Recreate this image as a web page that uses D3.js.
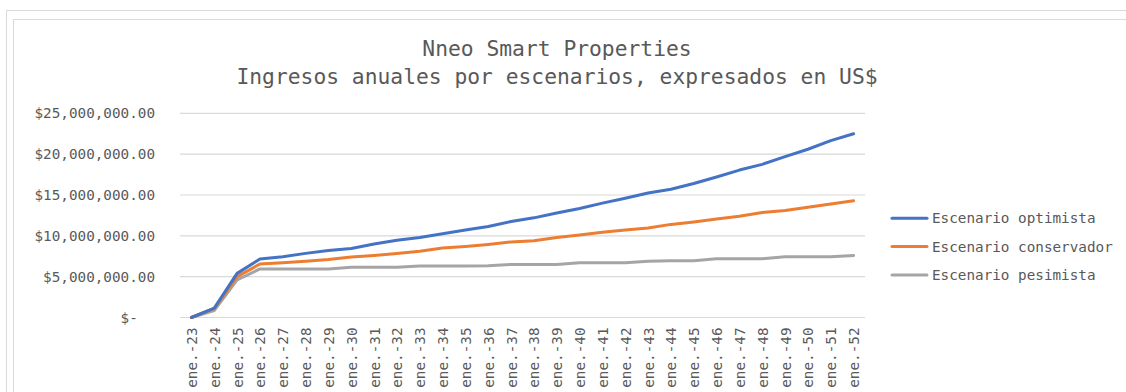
<!DOCTYPE html>
<html>
<head>
<meta charset="utf-8">
<script src="https://cdn.jsdelivr.net/npm/d3@7"></script>
<style>
  html, body { margin: 0; padding: 0; background: #ffffff; }
  svg { display: block; }
  text { font-family: "DejaVu Sans Mono", "Liberation Mono", monospace; fill: #595959; }
</style>
</head>
<body>
<svg id="chart" width="1126" height="392"></svg>
<script>
// Year labels on the category axis
const categories = ["ene.-23","ene.-24","ene.-25","ene.-26","ene.-27","ene.-28","ene.-29","ene.-30",
  "ene.-31","ene.-32","ene.-33","ene.-34","ene.-35","ene.-36","ene.-37","ene.-38","ene.-39","ene.-40",
  "ene.-41","ene.-42","ene.-43","ene.-44","ene.-45","ene.-46","ene.-47","ene.-48","ene.-49","ene.-50",
  "ene.-51","ene.-52"];

// Annual income per scenario, in US$
const optimista = [0, 1150000, 5400000, 7150000, 7450000, 7850000, 8200000, 8450000, 9000000, 9450000,
  9800000, 10250000, 10700000, 11150000, 11750000, 12200000, 12800000, 13350000, 14000000, 14600000,
  15250000, 15700000, 16400000, 17200000, 18050000, 18750000, 19700000, 20600000, 21650000, 22500000];
const conservador = [0, 1100000, 5000000, 6550000, 6700000, 6900000, 7100000, 7400000, 7600000, 7850000,
  8100000, 8500000, 8700000, 8950000, 9250000, 9400000, 9800000, 10100000, 10450000, 10700000,
  10950000, 11400000, 11700000, 12050000, 12400000, 12850000, 13100000, 13500000, 13900000, 14300000];
const pesimista = [0, 850000, 4600000, 5950000, 5950000, 5950000, 5950000, 6150000, 6150000, 6150000,
  6300000, 6300000, 6300000, 6350000, 6500000, 6500000, 6500000, 6700000, 6700000, 6700000,
  6900000, 6950000, 6950000, 7200000, 7200000, 7200000, 7450000, 7450000, 7450000, 7600000];

const yTicks = [0, 5000000, 10000000, 15000000, 20000000, 25000000];
const titleLines = ["Nneo Smart Properties", "Ingresos anuales por escenarios, expresados en US$"];

const series = [
  { name: "Escenario optimista", values: optimista, color: "#4472C4" },
  { name: "Escenario conservador", values: conservador, color: "#ED7D31" },
  { name: "Escenario pesimista", values: pesimista, color: "#A5A5A5" }
];

const svg = d3.select("#chart");

// Chart frame
svg.append("rect").attr("x", 6.5).attr("y", 10.5).attr("width", 1300).attr("height", 600)
  .attr("fill", "none").attr("stroke", "#d9d9d9").attr("stroke-width", 1);
svg.append("rect").attr("x", 13.5).attr("y", 19.5).attr("width", 1300).attr("height", 600)
  .attr("fill", "none").attr("stroke", "#d9d9d9").attr("stroke-width", 1);

// Title
const title = svg.append("text").attr("text-anchor", "middle").style("font-size", "21.3px");
titleLines.forEach((t, i) => {
  title.append("tspan").attr("x", 557).attr("y", 56 + i * 27.5).text(t);
});

const plot = { left: 180, right: 865, top: 113.3, bottom: 317.5 };

const x = d3.scalePoint().domain(categories).range([plot.left, plot.right]).padding(0.5);
const y = d3.scaleLinear().domain([0, 25000000]).range([plot.bottom, plot.top]);

// Horizontal gridlines
svg.append("g").selectAll("line").data(yTicks).join("line")
  .attr("x1", plot.left).attr("x2", plot.right)
  .attr("y1", d => y(d)).attr("y2", d => y(d))
  .attr("stroke", "#d9d9d9").attr("stroke-width", 1.2);

// Value axis, accounting style labels
const fmt = d3.format(",.2f");
const yAxis = d3.axisLeft(y).tickValues(yTicks).tickSize(0).tickPadding(0)
  .tickFormat(d => d === 0 ? "$-\u00A0\u00A0" : "$" + fmt(d));
const yg = svg.append("g").attr("transform", `translate(155,0)`).call(yAxis);
yg.select(".domain").remove();
yg.selectAll("text").attr("fill", "#595959").style("font-size", "14.3px")
  .style("font-family", "'DejaVu Sans Mono', monospace");

// Category axis, rotated labels
const xAxis = d3.axisBottom(x).tickSize(0).tickPadding(0);
const xg = svg.append("g").attr("transform", `translate(0,${plot.bottom})`).call(xAxis);
xg.select(".domain").remove();
xg.selectAll("text")
  .attr("fill", "#595959").style("font-size", "14.3px")
  .style("font-family", "'DejaVu Sans Mono', monospace")
  .attr("text-anchor", "end")
  .attr("transform", "translate(0,10) rotate(-90)")
  .attr("x", 0).attr("y", 0).attr("dy", "0.35em");

// Scenario lines
const line = d3.line().x((d, i) => x(categories[i])).y(d => y(d));
svg.append("g").selectAll("path").data(series.slice().reverse()).join("path")
  .attr("d", d => line(d.values))
  .attr("fill", "none").attr("stroke", d => d.color).attr("stroke-width", 3)
  .attr("stroke-linejoin", "round").attr("stroke-linecap", "round");

// Legend
const legend = svg.append("g").selectAll("g").data(series).join("g")
  .attr("transform", (d, i) => `translate(892,${218.3 + i * 28.3})`);
legend.append("line").attr("x1", 0).attr("x2", 35).attr("y1", 0).attr("y2", 0)
  .attr("stroke", d => d.color).attr("stroke-width", 3).attr("stroke-linecap", "round");
legend.append("text").attr("x", 40).attr("dy", "0.35em").style("font-size", "14.3px")
  .text(d => d.name);
</script>
</body>
</html>
